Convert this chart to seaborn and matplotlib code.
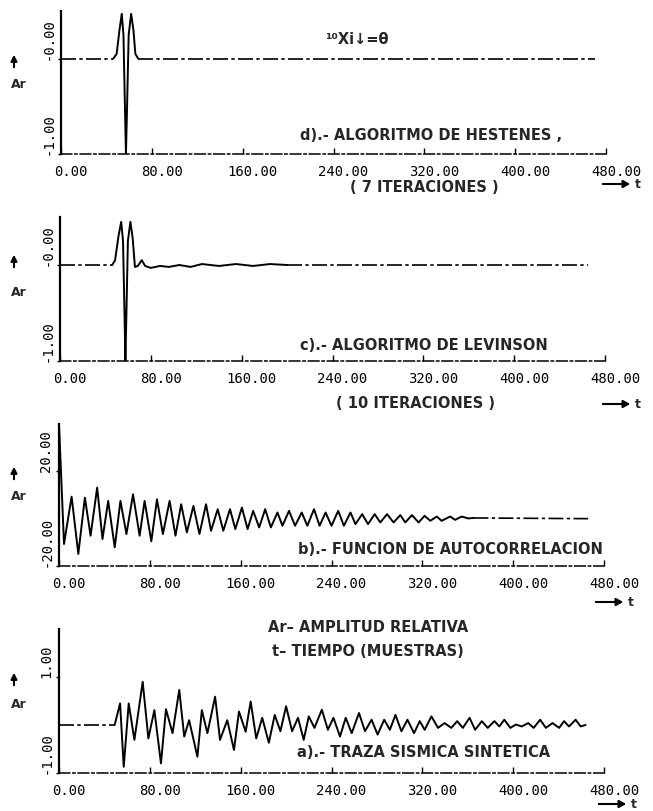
import matplotlib
matplotlib.use("Agg")
import matplotlib.pyplot as plt
import matplotlib.transforms as mtransforms
import seaborn as sns
import pandas as pd

# ---------------- data ----------------
x_ticks = [0, 80, 160, 240, 320, 400, 480]
x_tick_labels = ["0.00", "80.00", "160.00", "240.00", "320.00", "400.00", "480.00"]

# d) Hestenes, 7 iterations
t_d = [0, 46, 49, 51.5, 53.5, 55, 56.3, 57.2, 58.2, 59.6, 61.8, 63.8, 65.5, 68, 470]
v_d = [0, 0, 0.05, 0.3, 0.47, 0.25, -0.5, -1.0, -0.5, 0.25, 0.47, 0.3, 0.05, 0, 0]
y_ticks_d = [-1, 0]
y_labels_d = ["-1.00", "-0.00"]

# c) Levinson, 10 iterations
t_c = [0, 46, 48.5, 51.5, 53.9, 55.5, 56.8, 57.6, 58.5, 59.8,
       62, 64, 66, 68.5, 72, 75, 80, 88, 96, 105,
       115, 125, 140, 155, 170, 185, 200, 465]
v_c = [0, 0, 0.05, 0.3, 0.45, 0.25, -0.5, -1.0, -0.5, 0.25,
       0.45, 0.28, -0.02, -0.01, 0.05, -0.01, -0.03, -0.01, -0.02, 0.0,
       -0.02, 0.01, -0.01, 0.01, -0.01, 0.01, 0, 0]
y_ticks_c = [-1, 0]
y_labels_c = ["-1.00", "-0.00"]

# b) autocorrelation function
t_b = [0, 4.4, 11.1, 17, 22.8, 27.8, 33.6, 38.3, 43.3, 49.1,
       54.1, 59.4, 65.2, 71, 75.4, 81.3, 86.3, 91.5, 97.4, 102.6,
       107.6, 112.6, 118.4, 123.7, 129.5, 133.9, 139.8, 144.7, 150.6, 155.3,
       161.1, 166.1, 171, 176.3, 181.6, 186.6, 192.4, 196.8, 202.6, 207.9,
       213.8, 218.7, 224.6, 229.5, 234.8, 240, 245.9, 250.9, 256.7, 261.1,
       267, 272.2, 278, 283, 288.9, 294.7, 300.6, 305, 310.8, 316.7,
       322, 327, 332.7, 337, 344.5, 348.9, 354.6, 360.5, 365, 466]
v_b = [40, -10.7, 9.3, -14.9, 8.9, -7.2, 13.1, -8.6, 7.5, -12.1,
       7.5, -6.5, 10.3, -7.2, 7.5, -9.6, 8.2, -6.5, 7.5, -7.2,
       6.1, -5.8, 5.4, -6.5, 6.1, -5.1, 4.0, -5.1, 4.0, -4.4,
       4.7, -4.4, 3.3, -3.7, 4.0, -3.7, 2.6, -3.0, 3.3, -3.0,
       2.6, -3.0, 4.0, -3.0, 2.6, -3.0, 3.3, -3.0, 2.6, -2.3,
       1.9, -2.3, 1.9, -1.6, 1.9, -1.6, 1.5, -1.6, 1.5, -1.6,
       1.2, -0.9, 0.9, -0.9, 0.9, -0.5, 0.9, 0.1, 0.3, 0]
y_ticks_b = [-20, 20]
y_labels_b = ["-20.00", "20.00"]

# a) synthetic seismic trace
t_a = [0, 49, 53.8, 57, 61.4, 66.4, 73.7, 78.7, 84, 89.8,
       94.2, 100, 105.9, 110.3, 114.6, 121.9, 125.8, 130.7, 137.5, 141.8,
       148.2, 154.1, 158.5, 164.4, 168.8, 173.7, 179, 184.8, 190, 195,
       200, 205.3, 210.5, 215.5, 220, 225, 231.5, 236.8, 241.7, 247.5,
       252.5, 257.8, 264.2, 269.5, 275.3, 280.6, 286.4, 291.4, 296.3, 301.6,
       306.9, 312.7, 317.7, 322.1, 328, 333.8, 339.6, 345.5, 350.7, 355.7,
       361.6, 366.5, 372.4, 377.6, 383.5, 387.8, 392.2, 397.5, 402.4, 407.5,
       413.3, 418, 423.8, 428.8, 434.6, 440.5, 444.8, 449.2, 455, 459.4,
       463.8]
v_a = [0, 0, 0.45, -0.87, 0.45, -0.31, 0.90, -0.28, 0.31, -0.80,
       0.33, -0.17, 0.73, -0.24, 0.10, -0.66, 0.31, -0.17, 0.59, -0.31,
       0.10, -0.52, 0.28, -0.14, 0.49, -0.28, 0.15, -0.37, 0.21, -0.13,
       0.39, -0.13, 0.15, -0.31, 0.18, -0.06, 0.32, -0.10, 0.15, -0.24,
       0.15, -0.17, 0.25, -0.13, 0.11, -0.20, 0.11, -0.10, 0.21, -0.13,
       0.11, -0.17, 0.08, -0.10, 0.18, -0.06, 0.04, -0.06, 0.08, -0.06,
       0.15, -0.10, 0.08, -0.06, 0.08, -0.03, 0.11, -0.06, 0.01, -0.03,
       0.04, -0.06, 0.11, -0.06, 0.04, -0.06, 0.08, -0.03, 0.11, -0.03,
       0.0]
y_ticks_a = [-1, 1]
y_labels_a = ["-1.00", "1.00"]

# ---------------- styling ----------------
sns.set_style("white")
plt.rcParams["font.family"] = ["DejaVu Sans"]

W, H = 653, 812
fig = plt.figure(figsize=(W / 100, H / 100), dpi=100)

TICK_FONT = dict(family="DejaVu Sans Mono", size=10)
BOLD = dict(family="DejaVu Sans", weight="bold", size=10.5)
DASH_FLAT = (0, (9, 2, 2, 2))
DASH_AXIS = (0, (7, 2, 1.5, 2))


def make_axes(left, right, top, bottom):
    return fig.add_axes([left / W, 1 - bottom / H, (right - left) / W, (bottom - top) / H])


def draw_panel(ax, t, v, ylim, yticks, ylabels, solid_lo, solid_hi):
    df = pd.DataFrame({"t": t, "v": v})
    solid = df[(df.t >= solid_lo) & (df.t <= solid_hi)]
    before = df[df.t <= solid_lo]
    after = df[df.t >= solid_hi]
    sns.lineplot(data=solid, x="t", y="v", ax=ax, color="black", lw=1.4,
                 estimator=None, sort=True)
    for part in (before, after):
        if len(part) > 1:
            sns.lineplot(data=part, x="t", y="v", ax=ax, color="black", lw=1.2,
                         estimator=None, sort=True, linestyle=DASH_FLAT)
    ax.set_xlim(0, 480)
    ax.set_ylim(*ylim)
    ax.set_xlabel("")
    ax.set_ylabel("")
    ax.set_facecolor("none")
    for s in ("top", "right"):
        ax.spines[s].set_visible(False)
    ax.spines["left"].set_linewidth(1.6)
    ax.spines["left"].set_color("black")
    ax.spines["bottom"].set_linewidth(1.1)
    ax.spines["bottom"].set_color("black")
    ax.spines["bottom"].set_linestyle(DASH_AXIS)

    ax.set_xticks(x_ticks)
    ax.set_xticklabels(x_tick_labels, fontdict=TICK_FONT)
    ax.tick_params(axis="x", direction="in", length=4, width=1.0, pad=7,
                   bottom=True, colors="black")
    off = mtransforms.ScaledTranslation(0.10, 0, fig.dpi_scale_trans)
    for lab in ax.get_xticklabels():
        lab.set_transform(lab.get_transform() + off)

    ax.set_yticks(yticks)
    ax.set_yticklabels(ylabels, fontdict=TICK_FONT)
    ax.tick_params(axis="y", direction="out", length=2.5, width=1.0, pad=6.5,
                   left=True, colors="black")
    for lab in ax.get_yticklabels():
        lab.set_rotation(90)
        lab.set_rotation_mode("anchor")
        lab.set_ha("left")
        lab.set_va("center")


ax_d = make_axes(61, 606, 12, 155)
draw_panel(ax_d, t_d, v_d, (-1, 0.5), y_ticks_d, y_labels_d, 46, 68)
ax_c = make_axes(60, 605, 218, 362)
draw_panel(ax_c, t_c, v_c, (-1, 0.5), y_ticks_c, y_labels_c, 46, 200)
ax_b = make_axes(59, 604, 425, 567)
draw_panel(ax_b, t_b, v_b, (-20, 40), y_ticks_b, y_labels_b, 0, 365)
ax_a = make_axes(59, 604, 630, 774)
draw_panel(ax_a, t_a, v_a, (-1, 2), y_ticks_a, y_labels_a, 49, 463.8)


def ftext(x, y, s, **kw):
    props = dict(BOLD)
    props.update(kw)
    fig.text(x / W, 1 - y / H, s, va="center", ha=props.pop("ha", "left"), **props)


def t_arrow(x0, x1, y):
    fig.add_artist(matplotlib.patches.FancyArrowPatch(
        (x0 / W, 1 - y / H), (x1 / W, 1 - y / H), transform=fig.transFigure,
        arrowstyle="-|>,head_length=4,head_width=2.2", lw=1.5, color="black"))
    ftext(x1 + 2, y, "t", size=9)


def ar_label(y_arrow, y_text):
    fig.add_artist(matplotlib.patches.FancyArrowPatch(
        (14 / W, 1 - (y_arrow + 9) / H), (14 / W, 1 - (y_arrow - 9) / H),
        transform=fig.transFigure,
        arrowstyle="-|>,head_length=3.5,head_width=1.8", lw=1.5, color="black"))
    ftext(19, y_text, "Ar", size=9, ha="center")


# panel d texts
ftext(325, 40, "\u00b9\u2070Xi\u2193=\u03b8", size=10.5)
ftext(300, 135, "d).- ALGORITMO DE HESTENES ,")
ftext(350, 188, "( 7 ITERACIONES )")
t_arrow(600, 633, 185)
ar_label(62, 85)

# panel c texts
ftext(300, 346, "c).- ALGORITMO DE LEVINSON")
ftext(336, 404, "( 10 ITERACIONES )")
t_arrow(600, 633, 405)
ar_label(262, 292)

# panel b texts
ftext(298, 550, "b).- FUNCION DE AUTOCORRELACION")
t_arrow(593, 626, 603)
ar_label(474, 497)

# panel a texts
ftext(268, 627, "Ar\u2013 AMPLITUD RELATIVA")
ftext(272, 652, "t\u2013 TIEMPO (MUESTRAS)")
ftext(297, 753, "a).- TRAZA SISMICA SINTETICA")
t_arrow(596, 629, 805)
ar_label(680, 705)

fig.savefig("out.png", dpi=100, facecolor="white")
